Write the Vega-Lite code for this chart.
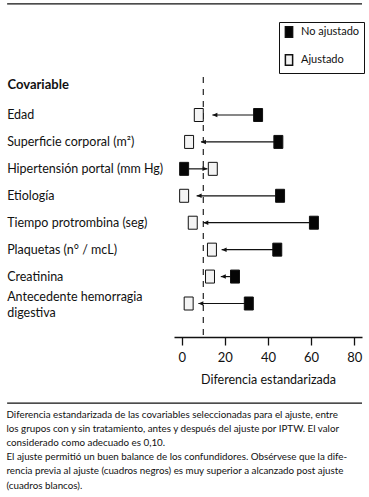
{
  "$schema": "https://vega.github.io/schema/vega-lite/v6.json",
  "width": 188,
  "height": 260,
  "autosize": {"type": "none"},
  "padding": {"left": 174, "top": 77, "right": 7, "bottom": 160},
  "background": "white",
  "datasets": {
    "covariables": [
      {"Covariable": "Edad", "No ajustado": 35.4, "Ajustado": 7.9, "Flecha": 14.2},
      {"Covariable": "Superficie corporal (m²)", "No ajustado": 44.8, "Ajustado": 3.4, "Flecha": 8.9},
      {"Covariable": "Hipertensión portal (mm Hg)", "No ajustado": 1.1, "Ajustado": 14.4, "Flecha": 11.9},
      {"Covariable": "Etiología", "No ajustado": 45.6, "Ajustado": 1.1, "Flecha": 6.9},
      {"Covariable": "Tiempo protrombina (seg)", "No ajustado": 61.3, "Ajustado": 5.1, "Flecha": 10.0},
      {"Covariable": "Plaquetas (n° / mcL)", "No ajustado": 44.3, "Ajustado": 14.0, "Flecha": 18.5},
      {"Covariable": "Creatinina", "No ajustado": 24.7, "Ajustado": 13.1, "Flecha": 18.1},
      {"Covariable": "Antecedente hemorragia digestiva", "No ajustado": 31.1, "Ajustado": 3.2, "Flecha": 7.7}
    ]
  },
  "title": {
    "text": [
      "Diferencia estandarizada de las covariables seleccionadas para el ajuste, entre",
      "los grupos con y sin tratamiento, antes y después del ajuste por IPTW. El valor",
      "considerado como adecuado es 0,10.",
      "El ajuste permitió un buen balance de los confundidores. Obsérvese que la dife-",
      "rencia previa al ajuste (cuadros negros) es muy superior a alcanzado post ajuste",
      "(cuadros blancos)."
    ],
    "orient": "bottom",
    "anchor": "start",
    "frame": "bounds",
    "font": "Lato",
    "fontSize": 9.8,
    "fontWeight": "normal",
    "lineHeight": 14.2,
    "color": "#111111",
    "offset": 6,
    "baseline": "top"
  },
  "config": {
    "axisX": {
      "grid": false,
      "domainColor": "#111111",
      "domainWidth": 1.3,
      "tickColor": "#111111",
      "tickWidth": 1.3,
      "tickSize": 8,
      "labelFont": "Lato",
      "labelFontSize": 13,
      "labelPadding": 6,
      "labelColor": "#111111",
      "labelFlush": false,
      "titleFont": "Lato",
      "titleFontSize": 12.5,
      "titleFontWeight": "normal",
      "titlePadding": 9,
      "titleColor": "#111111"
    },
    "view": {"stroke": null}
  },
  "layer": [
    {
      "data": {"values": [{}]},
      "layer": [
        {
          "mark": {"type": "rule", "color": "#111111", "strokeWidth": 1.3},
          "encoding": {
            "x": {"datum": -81, "type": "quantitative", "scale": {"domain": [-3.6, 83.6], "nice": false, "zero": false}, "title": "Diferencia estandarizada", "axis": {"values": [0, 20, 40, 60, 80]}},
            "x2": {"datum": 83.6},
            "y": {"datum": 1.281, "type": "quantitative", "scale": {"domain": [0, 1], "nice": false, "zero": false}, "axis": null}
          }
        },
        {
          "mark": {"type": "rule", "color": "#111111", "strokeWidth": 1.3},
          "encoding": {
            "x": {"datum": -81, "type": "quantitative", "scale": {"domain": [-3.6, 83.6], "nice": false, "zero": false}, "title": "Diferencia estandarizada", "axis": {"values": [0, 20, 40, 60, 80]}},
            "x2": {"datum": 83.6},
            "y": {"datum": -0.254, "type": "quantitative", "scale": {"domain": [0, 1], "nice": false, "zero": false}, "axis": null}
          }
        },
        {
          "mark": {"type": "rule", "color": "#333333", "strokeWidth": 1.3, "strokeDash": [6, 6]},
          "encoding": {
            "x": {"datum": 10, "type": "quantitative", "scale": {"domain": [-3.6, 83.6], "nice": false, "zero": false}, "title": "Diferencia estandarizada", "axis": {"values": [0, 20, 40, 60, 80]}}
          }
        }
      ]
    },
    {
      "data": {"name": "covariables"},
      "encoding": {
        "y": {
          "field": "Covariable",
          "type": "nominal",
          "scale": {
            "type": "point",
            "domain": ["Edad", "Superficie corporal (m²)", "Hipertensión portal (mm Hg)", "Etiología", "Tiempo protrombina (seg)", "Plaquetas (n° / mcL)", "Creatinina", "Antecedente hemorragia digestiva"],
            "range": [38, 226.5],
            "padding": 0
          },
          "axis": {
            "title": "Covariable",
            "orient": "left",
            "labels": false,
            "ticks": false,
            "tickSize": 0,
            "domain": false,
            "grid": false,
            "titleAngle": 0,
            "titleAlign": "left",
            "titleBaseline": "middle",
            "titleX": -167,
            "titleY": 7,
            "titleFont": "Lato",
            "titleFontSize": 13,
            "titleFontWeight": "bold",
            "titleColor": "#111111"
          }
        }
      },
      "layer": [
        {
          "transform": [{"filter": "datum['Covariable'] !== 'Antecedente hemorragia digestiva'"}],
          "mark": {"type": "text", "align": "left", "baseline": "middle", "font": "Lato", "fontSize": 12.5, "color": "#111111"},
          "encoding": {
            "x": {"datum": -81, "type": "quantitative", "scale": {"domain": [-3.6, 83.6], "nice": false, "zero": false}, "title": "Diferencia estandarizada", "axis": {"values": [0, 20, 40, 60, 80]}},
            "text": {"field": "Covariable"}
          }
        },
        {
          "transform": [{"filter": "datum['Covariable'] === 'Antecedente hemorragia digestiva'"}],
          "mark": {"type": "text", "align": "left", "baseline": "middle", "font": "Lato", "fontSize": 12.5, "color": "#111111", "lineHeight": 16.5, "dy": -7},
          "encoding": {
            "x": {"datum": -81, "type": "quantitative", "scale": {"domain": [-3.6, 83.6], "nice": false, "zero": false}, "title": "Diferencia estandarizada", "axis": {"values": [0, 20, 40, 60, 80]}},
            "text": {"value": ["Antecedente hemorragia", "digestiva"]}
          }
        },
        {
          "mark": {"type": "rule", "color": "#111111", "strokeWidth": 1.2},
          "encoding": {
            "x": {"field": "No ajustado", "type": "quantitative", "scale": {"domain": [-3.6, 83.6], "nice": false, "zero": false}, "title": "Diferencia estandarizada", "axis": {"values": [0, 20, 40, 60, 80]}},
            "x2": {"field": "Flecha"}
          }
        },
        {
          "mark": {"type": "point", "filled": true, "color": "#111111", "size": 100, "strokeWidth": 0, "opacity": 1},
          "encoding": {
            "x": {"field": "Flecha", "type": "quantitative", "scale": {"domain": [-3.6, 83.6], "nice": false, "zero": false}, "title": "Diferencia estandarizada", "axis": {"values": [0, 20, 40, 60, 80]}},
            "shape": {
              "condition": {"test": "datum['Flecha'] > datum['No ajustado']", "value": "M0,0L-1,-0.45L-1,0.45Z"},
              "value": "M0,0L1,-0.45L1,0.45Z"
            }
          }
        },
        {
          "transform": [{"fold": ["No ajustado", "Ajustado"], "as": ["Tipo", "Valor"]}],
          "mark": {"type": "point", "filled": true, "stroke": "#111111", "strokeWidth": 1, "size": 169, "opacity": 1},
          "encoding": {
            "x": {"field": "Valor", "type": "quantitative", "scale": {"domain": [-3.6, 83.6], "nice": false, "zero": false}, "title": "Diferencia estandarizada", "axis": {"values": [0, 20, 40, 60, 80]}},
            "shape": {
              "field": "Tipo",
              "type": "nominal",
              "scale": {"domain": ["No ajustado", "Ajustado"], "range": ["M-0.69,-1L0.69,-1L0.69,1L-0.69,1Z", "M-0.69,-1L0.69,-1L0.69,1L-0.69,1Z"]},
              "legend": {"title": null, "orient": "none", "legendX": 105, "legendY": -55, "strokeColor": "#111111", "padding": 4, "rowPadding": 10, "labelOffset": 6, "labelFont": "Lato", "labelFontSize": 11, "labelColor": "#111111", "symbolSize": 110, "fillColor": "white", "encode": {"symbols": {"update": {"stroke": {"value": "#111111"}, "strokeWidth": {"value": 1}}}}}
            },
            "fill": {
              "field": "Tipo",
              "type": "nominal",
              "scale": {"domain": ["No ajustado", "Ajustado"], "range": ["#050505", "#f4f4f4"]},
              "legend": {"title": null, "orient": "none", "legendX": 105, "legendY": -55, "strokeColor": "#111111", "padding": 4, "rowPadding": 10, "labelOffset": 6, "labelFont": "Lato", "labelFontSize": 11, "labelColor": "#111111", "symbolSize": 110, "fillColor": "white", "encode": {"symbols": {"update": {"stroke": {"value": "#111111"}, "strokeWidth": {"value": 1}}}}}
            }
          }
        }
      ]
    }
  ],
  "resolve": {"scale": {"y": "independent"}}
}
